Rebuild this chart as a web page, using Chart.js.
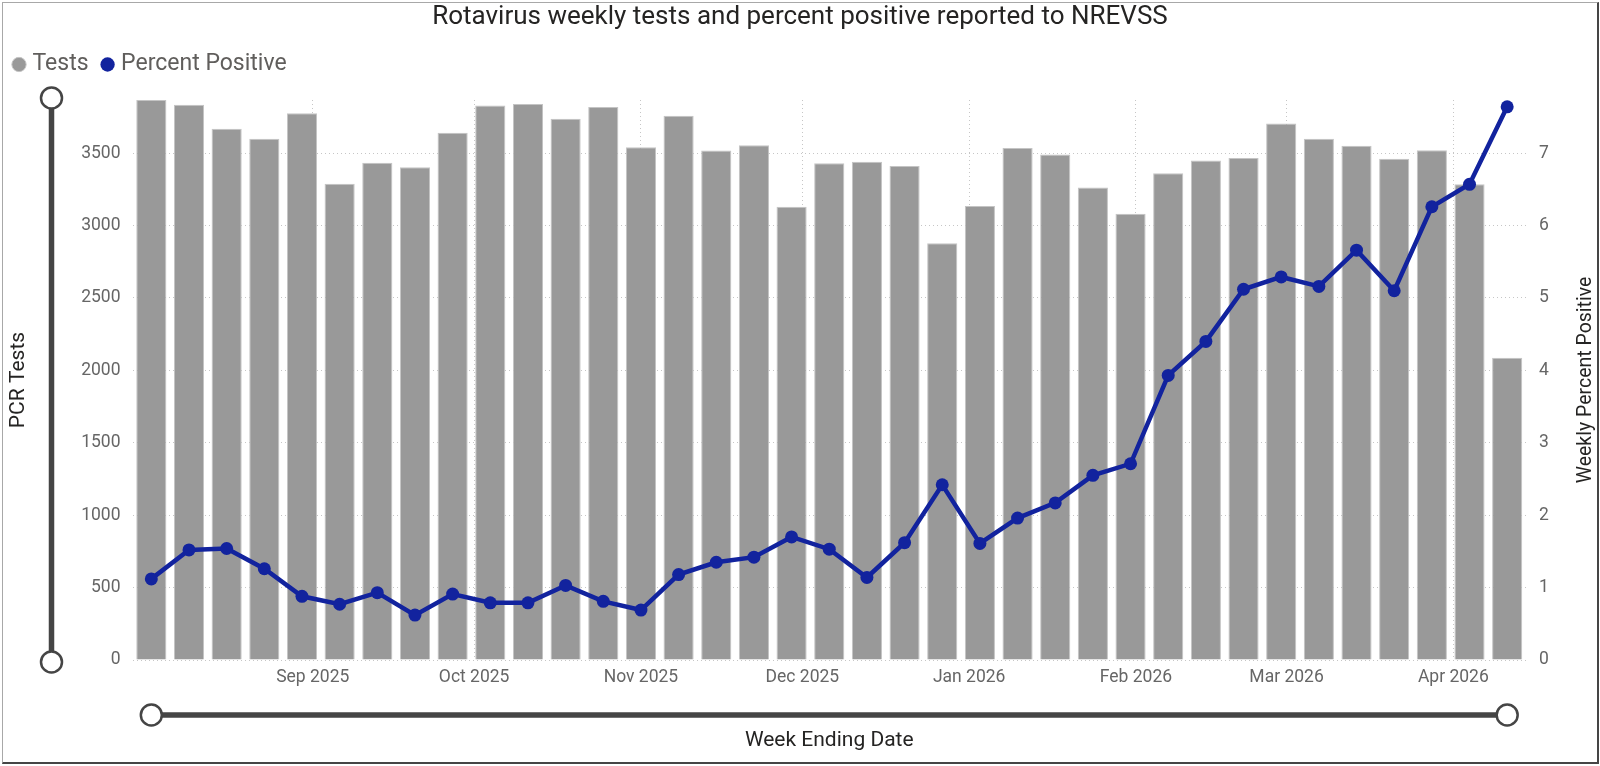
<!DOCTYPE html>
<html>
<head>
<meta charset="utf-8">
<script src="https://cdn.jsdelivr.net/npm/chart.js@4.4.1/dist/chart.umd.min.js"></script>
<style>
  html, body { margin: 0; padding: 0; background: #fff; }
  #wrap { position: relative; width: 1600px; height: 766px; }
  #frame {
    position: absolute; left: 2px; top: 2px; width: 1597px; height: 762px;
    box-sizing: border-box; pointer-events: none;
    border-top: 1px solid #a8a8a8; border-left: 1px solid #a8a8a8;
    border-right: 2px solid #454545; border-bottom: 2px solid #454545;
  }
</style>
</head>
<body>
<div id="wrap">
  <canvas id="chart" width="1600" height="766"></canvas>
  <div id="frame"></div>
</div>
<script>
(function () {
  'use strict';

  const WEEK_ENDING = [
    '2025-08-02', '2025-08-09', '2025-08-16', '2025-08-23', '2025-08-30',
    '2025-09-06', '2025-09-13', '2025-09-20', '2025-09-27',
    '2025-10-04', '2025-10-11', '2025-10-18', '2025-10-25',
    '2025-11-01', '2025-11-08', '2025-11-15', '2025-11-22', '2025-11-29',
    '2025-12-06', '2025-12-13', '2025-12-20', '2025-12-27',
    '2026-01-03', '2026-01-10', '2026-01-17', '2026-01-24', '2026-01-31',
    '2026-02-07', '2026-02-14', '2026-02-21', '2026-02-28',
    '2026-03-07', '2026-03-14', '2026-03-21', '2026-03-28',
    '2026-04-04', '2026-04-11',
  ];

  const TESTS = [
    3867, 3834, 3668, 3600, 3775, 3288, 3434, 3403, 3640,
    3829, 3839, 3737, 3819, 3541, 3758, 3518, 3554, 3130, 3431,
    3441, 3411, 2878, 3135, 3536, 3490, 3263, 3082, 3362,
    3449, 3467, 3704, 3600, 3551, 3462, 3520, 3286, 2087,
  ];

  const PCT_POSITIVE = [
    1.12, 1.52, 1.54, 1.26, 0.88, 0.77, 0.93, 0.62, 0.91,
    0.79, 0.79, 1.03, 0.81, 0.69, 1.18, 1.35, 1.42, 1.70, 1.53,
    1.14, 1.62, 2.42, 1.61, 1.96, 2.17, 2.55, 2.71, 3.93,
    4.40, 5.12, 5.29, 5.16, 5.66, 5.10, 6.26, 6.57, 7.64,
  ];

  const MONTH_STARTS = [
    '2025-09-01', '2025-10-01', '2025-11-01', '2025-12-01',
    '2026-01-01', '2026-02-01', '2026-03-01', '2026-04-01',
  ];
  const MONTH_LABELS = [
    'Sep 2025', 'Oct 2025', 'Nov 2025', 'Dec 2025',
    'Jan 2026', 'Feb 2026', 'Mar 2026', 'Apr 2026',
  ];

  const TEST_TICKS = [0, 500, 1000, 1500, 2000, 2500, 3000, 3500];
  const PCT_TICKS  = [0, 1, 2, 3, 4, 5, 6, 7];

  const BAR_GREY  = '#999999';
  const LINE_BLUE = '#12239E';
  const TICK_GREY = '#666666';
  const INK       = '#252423';
  const GRID      = '#c6c6c6';
  const SLIDER    = '#454545';
  const FONT      = 'Roboto';

  // left axis tops out at the largest week; right axis shares the same grid (500 tests = 1%)
  const Y_MAX = Math.max(...TESTS);
  const RATIO = 500;

  function weekIndex(d) {
    return (Date.parse(d) - Date.parse(WEEK_ENDING[0])) / (7 * 864e5);
  }

  function fixedTicks(values) {
    return scale => { scale.ticks = values.map(v => ({ value: v })); };
  }

  const legendHeight = {
    id: 'legendHeight',
    afterInit(chart) {
      if (!chart.legend) return;
      const fit = chart.legend.fit;
      chart.legend.fit = function () {
        fit.call(this);
        this.height = 64;
      };
    },
  };

  const extras = {
    id: 'extras',
    afterDraw(chart) {
      const { ctx, chartArea: a, scales } = chart;
      ctx.save();

      // right axis title, reading bottom to top
      ctx.font = '19.5px ' + FONT;
      ctx.fillStyle = INK;
      ctx.textAlign = 'center';
      ctx.textBaseline = 'middle';
      ctx.translate(chart.width - 13.5, (a.top + a.bottom) / 2);
      ctx.rotate(-Math.PI / 2);
      ctx.fillText('Weekly Percent Positive', 0, 0);
      ctx.setTransform(1, 0, 0, 1, 0, 0);

      // zoom sliders
      ctx.strokeStyle = SLIDER;
      ctx.lineCap = 'butt';
      ctx.lineWidth = 5.5;
      const vx = 51.5;
      ctx.beginPath();
      ctx.moveTo(vx, a.top - 2);
      ctx.lineTo(vx, a.bottom + 2);
      ctx.stroke();

      const x0 = scales.x.getPixelForValue(0);
      const x1 = scales.x.getPixelForValue(WEEK_ENDING.length - 1);
      const hy = 715;
      ctx.beginPath();
      ctx.moveTo(x0, hy);
      ctx.lineTo(x1, hy);
      ctx.stroke();

      ctx.lineWidth = 2.5;
      ctx.fillStyle = '#ffffff';
      [[vx, a.top - 2], [vx, a.bottom + 2], [x0, hy], [x1, hy]].forEach(([cx, cy]) => {
        ctx.beginPath();
        ctx.arc(cx, cy, 10.5, 0, Math.PI * 2);
        ctx.fill();
        ctx.stroke();
      });

      ctx.restore();
    },
  };

  new Chart(document.getElementById('chart'), {
    type: 'bar',
    data: {
      labels: WEEK_ENDING,
      datasets: [
        {
          label: 'Tests',
          data: TESTS,
          yAxisID: 'y',
          backgroundColor: BAR_GREY,
          borderColor: '#c4c4c4',
          borderWidth: 1,
          barPercentage: 0.8,
          categoryPercentage: 1,
          order: 1,
        },
        {
          type: 'line',
          label: 'Percent Positive',
          data: PCT_POSITIVE,
          yAxisID: 'y1',
          borderColor: LINE_BLUE,
          backgroundColor: LINE_BLUE,
          pointBackgroundColor: LINE_BLUE,
          pointBorderColor: LINE_BLUE,
          pointBorderWidth: 0,
          pointRadius: 6.5,
          borderWidth: 4.5,
          tension: 0,
          order: 0,
        },
      ],
    },
    options: {
      responsive: false,
      animation: false,
      devicePixelRatio: 1,
      layout: { padding: 0 },
      plugins: {
        tooltip: { enabled: false },
        title: {
          display: true,
          text: 'Rotavirus weekly tests and percent positive reported to NREVSS',
          color: INK,
          font: { family: FONT, size: 26, weight: 'normal' },
          padding: { top: 1.4, bottom: 3.4 },
        },
        legend: {
          display: true,
          align: 'start',
          labels: {
            usePointStyle: true,
            pointStyle: 'circle',
            boxWidth: 4,
            boxHeight: 10.1,
            padding: 17,
            color: '#605E5C',
            font: { family: FONT, size: 23 },
            sort: (a, b) => a.datasetIndex - b.datasetIndex,
          },
        },
      },
      scales: {
        x: {
          type: 'category',
          display: false,
          offset: true,
        },
        xm: {
          type: 'linear',
          position: 'bottom',
          offset: false,
          bounds: 'data',
          min: -0.5,
          max: WEEK_ENDING.length - 0.5,
          afterBuildTicks(scale) {
            scale.ticks = MONTH_STARTS.map(d => ({ value: weekIndex(d) }));
          },
          afterFit(scale) { scale.height = 106; },
          ticks: {
            autoSkip: false,
            maxRotation: 0,
            padding: 7.5,
            color: TICK_GREY,
            font: { family: FONT, size: 17.5 },
            callback: (v, i) => MONTH_LABELS[i],
          },
          grid: { color: GRID, lineWidth: 1, drawTicks: false, offset: false },
          border: { display: false, dash: [1, 3] },
          title: {
            display: true,
            text: 'Week Ending Date',
            color: INK,
            font: { family: FONT, size: 21 },
            padding: { top: 0, bottom: 12.4 },
          },
        },
        y: {
          position: 'left',
          bounds: 'data',
          min: 0,
          max: Y_MAX,
          afterBuildTicks: fixedTicks(TEST_TICKS),
          afterFit(scale) { scale.width = 132.5; },
          ticks: {
            padding: 12,
            color: TICK_GREY,
            font: { family: FONT, size: 17.5 },
            callback: v => String(v),
          },
          grid: { color: GRID, lineWidth: 1, drawTicks: false },
          border: { display: false, dash: [1, 3] },
          title: {
            display: true,
            text: 'PCR Tests',
            color: INK,
            font: { family: FONT, size: 21 },
            padding: { top: 6.4, bottom: 0 },
          },
        },
        y1: {
          position: 'right',
          bounds: 'data',
          min: 0,
          max: Y_MAX / RATIO,
          afterBuildTicks: fixedTicks(PCT_TICKS),
          afterFit(scale) { scale.width = 74; },
          ticks: {
            padding: 13,
            color: TICK_GREY,
            font: { family: FONT, size: 17.5 },
            callback: v => String(v),
          },
          grid: { drawOnChartArea: false, drawTicks: false },
          border: { display: false },
        },
      },
    },
    plugins: [legendHeight, extras],
  });
})();
</script>
</body>
</html>
